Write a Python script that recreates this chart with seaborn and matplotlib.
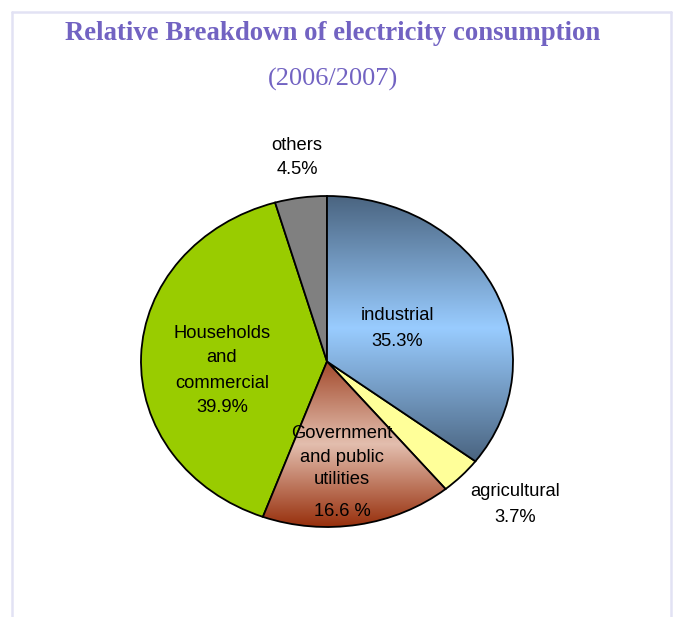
import numpy as np
import matplotlib
matplotlib.use('Agg')
import matplotlib.pyplot as plt
from matplotlib.colors import LinearSegmentedColormap
import seaborn as sns

# data (clockwise from 12 o'clock)
sectors = ['industrial', 'agricultural', 'Government and public utilities',
           'Households and commercial', 'others']
shares = [35.3, 3.7, 16.6, 39.9, 4.5]
share_labels = ['35.3%', '3.7%', '16.6 %', '39.9%', '4.5%']

sns.set_theme(style="white")
plt.rcParams['font.family'] = ['Liberation Sans', 'DejaVu Sans']

W, H = 673, 617
fig = plt.figure(figsize=(W / 100, H / 100), dpi=100)
fig.patch.set_facecolor('white')

# pie sits in an ellipse: centre (327, 361), rx 186, ry 165 (pixels)
cx, cy, rx, ry = 327, 361.5, 186, 165.5
ax = fig.add_axes([(cx - rx) / W, (H - cy - ry) / H, 2 * rx / W, 2 * ry / H])

flat = sns.color_palette(['#4d6a89', '#ffff99', '#a0482a', '#99cc00', '#808080'])
wedges, _ = ax.pie(shares, startangle=90, counterclock=False, colors=flat,
                   wedgeprops=dict(edgecolor='black', linewidth=1.3))
ax.set_aspect('auto')
ax.axis('off')

# gradient fills (dark - light - dark, vertical)
grads = {0: ['#4a6480', '#99ccff', '#4a6480'],
         2: ['#a34a2c', '#e3beae', '#972f0c']}
for i, cols in grads.items():
    w = wedges[i]
    ext = w.get_path().get_extents()
    cmap = LinearSegmentedColormap.from_list('g%d' % i, cols)
    grad = np.linspace(0, 1, 256).reshape(-1, 1)
    im = ax.imshow(grad, cmap=cmap, aspect='auto', origin='upper',
                   extent=[ext.x0, ext.x1, ext.y0, ext.y1], zorder=w.get_zorder())
    im.set_clip_path(w)
    w.set_facecolor('none')
    w.set_zorder(w.get_zorder() + 0.5)
ax.set_aspect('auto')
ax.set_xlim(-1, 1)
ax.set_ylim(-1, 1)

# labels, placed as in the original slide (pixel positions)
label_lines = {
    'others': (297, [(145, 'others'), (170, share_labels[4])]),
    'industrial': (397, [(316, 'industrial'), (342, share_labels[0])]),
    'households': (222, [(333, 'Households'), (358, 'and'), (383, 'commercial'),
                         (407, share_labels[3])]),
    'government': (342, [(434, 'Government'), (457, 'and public'), (479, 'utilities'),
                         (512, share_labels[2])]),
    'agricultural': (515, [(492, 'agricultural'), (517, share_labels[1])]),
}
for key, (px, lines) in label_lines.items():
    for py, txt in lines:
        fig.text(px / W, 1 - py / H, txt, ha='center', va='center',
                 fontsize=13.2, color='black', zorder=10)

title_col = '#7263c2'
fig.text(333 / W, 1 - 34 / H, 'Relative Breakdown of electricity consumption',
         ha='center', va='center', fontsize=19.3, fontweight='bold',
         family=['Liberation Serif', 'DejaVu Serif'], color=title_col)
fig.text(333 / W, 1 - 79 / H, '(2006/2007)', ha='center', va='center',
         fontsize=19, family=['Liberation Serif', 'DejaVu Serif'], color=title_col)

# light slide frame
frame_col = '#e2e2f4'
fig.add_artist(plt.Line2D([12 / W, 12 / W], [0, 1 - 12 / H], color=frame_col, lw=1.8))
fig.add_artist(plt.Line2D([12 / W, 671 / W], [1 - 12 / H, 1 - 12 / H], color=frame_col, lw=1.8))
fig.add_artist(plt.Line2D([671 / W, 671 / W], [0, 1 - 12 / H], color=frame_col, lw=1.8))

fig.savefig('out.png', dpi=100)
